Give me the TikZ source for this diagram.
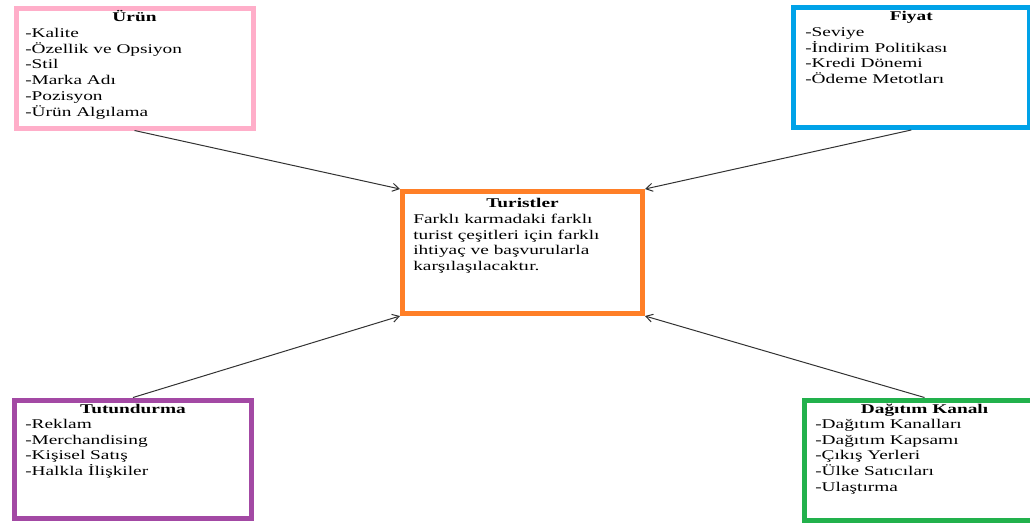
\documentclass[tikz,border=0pt]{standalone}
\usepackage{fontspec}
\setmainfont[FakeStretch=1.45]{Liberation Serif}
\usetikzlibrary{arrows.meta}

\definecolor{urunpink}{RGB}{255,174,201}
\definecolor{fiyatblue}{RGB}{0,162,232}
\definecolor{turistorange}{RGB}{255,127,39}
\definecolor{tutpurple}{RGB}{163,73,164}
\definecolor{daggreen}{RGB}{34,177,76}

\begin{document}
\begin{tikzpicture}[x=0.75pt,y=0.75pt,yscale=-1,xscale=1,
	catbox/.style={draw, line width=3.75pt, fill=white, inner sep=0pt, anchor=north west},
	headtext/.style={font=\fontsize{10}{11.85}\selectfont\bfseries, inner sep=0pt, anchor=base},
	itemtext/.style={font=\fontsize{10}{11.85}\selectfont, inner sep=0pt, anchor=north west, align=left},
	conn/.style={draw={rgb, 255:red, 50; green, 50; blue, 50}, line width=0.75pt, -{Straight Barb[length=5pt,width=6pt]}}]
		%set diagram left start at 0, width 1030 and height 522
		\clip (0,0) rectangle (1030,522);
		
		%Shape: Rectangle [urun]
		\node [catbox, draw=urunpink, minimum width=177.75pt, minimum height=89.625pt] (urun) at (13.5,6) {};
		%Shape: Rectangle [fiyat]
		\node [catbox, draw=fiyatblue, minimum width=177.375pt, minimum height=90pt] (fiyat) at (790.5,5) {};
		%Shape: Rectangle [turist]
		\node [catbox, draw=turistorange, minimum width=180pt, minimum height=91.5pt] (turist) at (400,189) {};
		%Shape: Rectangle [tut]
		\node [catbox, draw=tutpurple, minimum width=177.75pt, minimum height=88.875pt] (tut) at (12,397.5) {};
		%Shape: Rectangle [dag]
		\node [catbox, draw=daggreen, minimum width=180pt, minimum height=90pt] (dag) at (802,397.5) {};
		
		%Straight Lines
		\draw [conn] (urun.south) -- (turist.north west);
		\draw [conn] (fiyat.south) -- (turist.north east);
		\draw [conn] (tut.north) -- (turist.south west);
		\draw [conn] (dag.north) -- (turist.south east);
		
		% Text Node (first line top = baseline - strut height)
		\node [headtext] (uruntitle) at (urun.north |- 0,21) {Ürün};
		\node [itemtext] (urunlist) at (25,26) {\strut-Kalite\\-Özellik ve Opsiyon\\-Stil\\-Marka Adı\\-Pozisyon\\-Ürün Algılama};
		% Text Node
		\node [headtext] (fiyattitle) at (fiyat.north |- 0,20) {Fiyat};
		\node [itemtext] (fiyatlist) at (805,25) {\strut-Seviye\\-İndirim Politikası\\-Kredi Dönemi\\-Ödeme Metotları};
		% Text Node
		\node [headtext] (turisttitle) at (turist.north |- 0,207) {Turistler};
		\node [itemtext] (turistbody) at (413,212) {\strut Farklı karmadaki farklı\\turist çeşitleri için farklı\\ihtiyaç ve başvurularla\\karşılaşılacaktır.};
		% Text Node
		\node [headtext] (tuttitle) at (tut.north |- 0,413) {Tutundurma};
		\node [itemtext] (tutlist) at (25,417) {\strut-Reklam\\-Merchandising\\-Kişisel Satış\\-Halkla İlişkiler};
		% Text Node
		\node [headtext] (dagtitle) at (dag.north |- 0,413) {Dağıtım Kanalı};
		\node [itemtext] (daglist) at (815,417) {\strut-Dağıtım Kanalları\\-Dağıtım Kapsamı\\-Çıkış Yerleri\\-Ülke Satıcıları\\-Ulaştırma};
	\end{tikzpicture}
\end{document}
